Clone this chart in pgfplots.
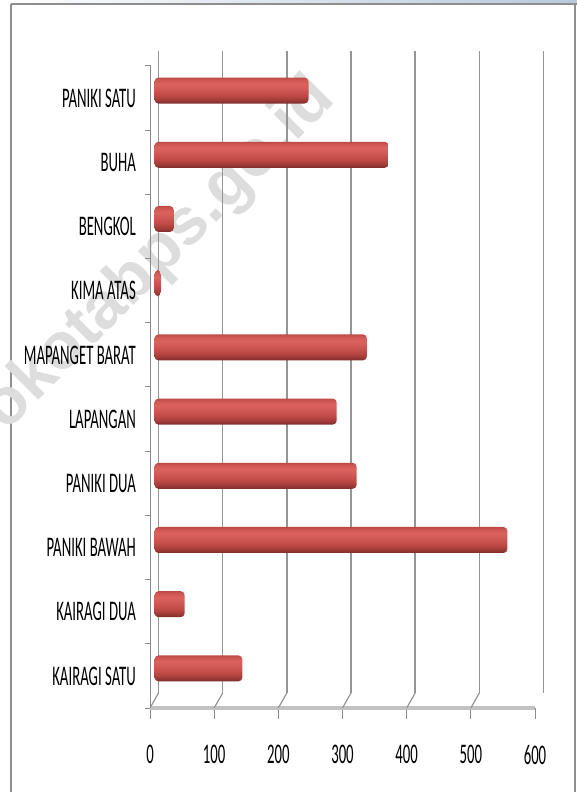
\documentclass[border=0pt]{standalone}
\usepackage{pgfplots}
\pgfplotsset{compat=1.18}
\usepackage{fontspec}
\setmainfont{Carlito}[FakeStretch=0.52]
\newfontfamily\wmfont{Liberation Sans}

\definecolor{gridgray}{HTML}{959595}
\definecolor{axgray}{HTML}{8C8C8C}
\definecolor{floorgray}{HTML}{C2C2C2}
\definecolor{framegray}{HTML}{8E8E8E}
\definecolor{bandblue}{HTML}{B7C9DC}
\definecolor{wmgray}{HTML}{DDDDDD}
\definecolor{barA}{HTML}{7A2B29}
\definecolor{barB}{HTML}{9C3A37}
\definecolor{barC}{HTML}{BD4844}
\definecolor{barD}{HTML}{D05853}
\definecolor{barE}{HTML}{DB625D}
\definecolor{barF}{HTML}{BE4A46}

\pgfdeclareverticalshading{cyl}{100bp}{color(0bp)=(barA); color(25bp)=(barA);
  color(31bp)=(barB); color(40bp)=(barC); color(52bp)=(barD); color(63bp)=(barE);
  color(70bp)=(barD); color(75bp)=(barF); color(100bp)=(barF)}

\pgfplotsset{
  panel/.style={scale only axis, anchor=south west,
    width=385bp, height=642bp,
    xmin=0, xmax=600, ymin=-0.5, ymax=9.5},
  cylbar/.style={xbar, bar shift=0pt, shade, shading=cyl, draw=none, rounded corners=4bp},
}

\begin{document}
\begin{tikzpicture}
% chart frame
\shade[left color=white, right color=bandblue] (0bp,788bp) rectangle (577bp,792bp);
\draw[framegray, line width=1.6bp] (11bp,788bp) -- (577bp,788bp);
\draw[framegray, line width=1.2bp] (11bp,0bp) -- (11bp,788bp);
\draw[framegray, line width=1.2bp] (575bp,0bp) -- (575bp,788bp);

% watermark
\begin{scope}
  \clip (0bp,0bp) rectangle (577bp,787bp);
  \node[rotate=45, text=wmgray, inner sep=0pt,
    font=\wmfont\bfseries\fontsize{66}{68}\selectfont] at (160bp,537bp) {okotabps.go.id};
\end{scope}

% back wall: grid only
\begin{axis}[panel, at={(158.5bp,99bp)},
  axis line style={draw=none},
  xtick={0,100,200,300,400,500,600}, ytick=\empty,
  xticklabel style={opacity=0}, major tick length=0pt,
  xmajorgrids, grid style={draw=gridgray, line width=1.5bp},
]
\end{axis}

% bars, mid depth
\begin{axis}[panel, at={(154.5bp,91.5bp)},
  hide axis, xbar, bar width=26bp,
]
\addplot[cylbar] coordinates {(137,0)}; % KAIRAGI SATU
\addplot[cylbar] coordinates {(47,1)};  % KAIRAGI DUA
\addplot[cylbar] coordinates {(550,2)}; % PANIKI BAWAH
\addplot[cylbar] coordinates {(315,3)}; % PANIKI DUA
\addplot[cylbar] coordinates {(284,4)}; % LAPANGAN
\addplot[cylbar] coordinates {(331,5)}; % MAPANGET BARAT
\addplot[cylbar] coordinates {(10,6)};  % KIMA ATAS
\addplot[cylbar] coordinates {(30,7)};  % BENGKOL
\addplot[cylbar] coordinates {(365,8)}; % BUHA
\addplot[cylbar] coordinates {(240,9)}; % PANIKI SATU
\end{axis}

% front: floor, left axis, ticks and labels
\begin{axis}[panel, at={(150bp,84bp)},
  axis lines*=left,
  x axis line style={draw=floorgray, line width=3.5bp},
  y axis line style={draw=axgray, line width=1bp},
  tick align=outside, major tick length=11bp,
  xtick={0,100,200,300,400,500,600},
  xticklabels={0,100,200,300,400,500,600},
  xtick style={draw=axgray, line width=0.8bp},
  ytick={0,1,2,3,4,5,6,7,8,9},
  yticklabels={KAIRAGI SATU, KAIRAGI DUA, PANIKI BAWAH, PANIKI DUA, LAPANGAN,
    MAPANGET BARAT, KIMA ATAS, BENGKOL, BUHA, PANIKI SATU},
  ytick style={draw=none},
  extra y ticks={-0.5,0.5,1.5,2.5,3.5,4.5,5.5,6.5,7.5,8.5,9.5},
  extra y tick labels={},
  extra y tick style={major tick length=5bp, ytick style={draw=axgray, line width=1bp}},
  ticklabel style={font=\fontsize{28.5}{30}\selectfont, text=black},
  yticklabel style={anchor=east, inner sep=0pt, xshift=-3bp},
  xticklabel style={anchor=north, inner sep=0pt, yshift=-26bp},
]
\pgfplotsinvokeforeach{0,100,200,300,400,500,600}{
  \draw[gridgray, line width=1.2bp] (axis cs:#1,-0.5) -- ++(8.5bp,15bp);
}
\draw[gridgray, line width=1.2bp] (axis cs:0,9.5) -- ++(8.5bp,15bp);
\end{axis}

\pgfresetboundingbox
\path[use as bounding box] (0bp,0bp) rectangle (577bp,792bp);
\end{tikzpicture}
\end{document}
